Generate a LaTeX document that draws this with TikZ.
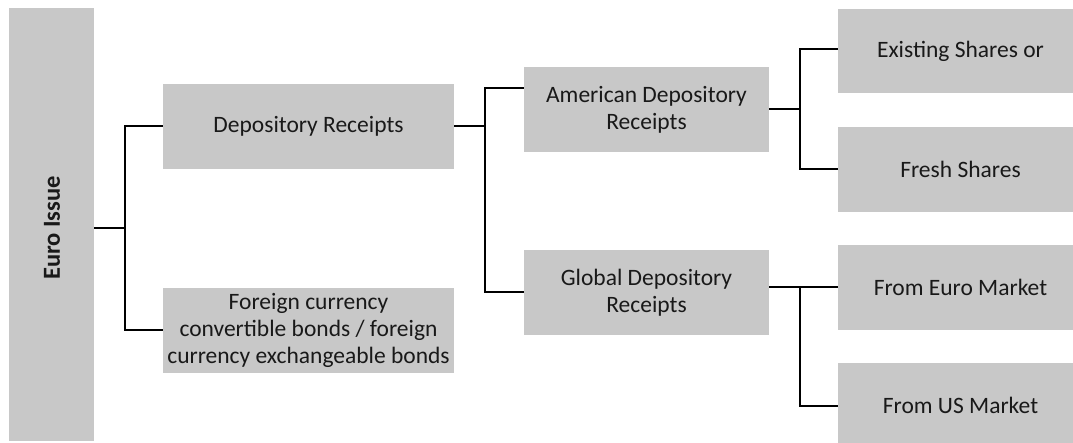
\documentclass[tikz,border=0pt]{standalone}
\usepackage{fontspec}
\setmainfont{Carlito}
\begin{document}
\begin{tikzpicture}[x=1pt,y=-1pt,
  box/.style={rectangle, fill=boxgray, inner sep=0pt, align=center,
    font=\fontsize{23.5}{27}\selectfont, text=black!90},
  conn/.style={draw=black, line width=2pt}]
\definecolor{boxgray}{RGB}{200,200,200}
\useasboundingbox (0,0) rectangle (1073,443);
\clip (0,0) rectangle (1073,443);
\node[box, minimum width=85pt, minimum height=432pt] (euro) at (51.5,224.5) {};
\node[rotate=90, font=\fontsize{24.5}{27}\selectfont\bfseries, text=black!90] (eurotext) at (52,228) {Euro Issue};
\node[box, minimum width=291pt, minimum height=85pt] (dr) at (308.5,126.5) {Depository Receipts};
\node[box, minimum width=291pt, minimum height=85pt] (fc) at (308.5,330.5) {Foreign currency\\convertible bonds / foreign\\currency exchangeable bonds};
\node[box, minimum width=245pt, minimum height=85pt] (adr) at (646.5,109.5) {American Depository\\Receipts};
\node[box, minimum width=245pt, minimum height=85pt] (gdr) at (646.5,292.5) {Global Depository\\Receipts};
\node[box, minimum width=245pt, minimum height=84pt] (es) at (960.5,51) {Existing Shares or};
\node[box, minimum width=245pt, minimum height=85pt] (fs) at (960.5,169.5) {Fresh Shares};
\node[box, minimum width=245pt, minimum height=85pt] (fe) at (960.5,287.5) {From Euro Market};
\node[box, minimum width=245pt, minimum height=85pt] (fu) at (960.5,405.5) {From US Market};
% connectors
\draw[conn] ([yshift=-3.5pt]euro.east) -- ++(31,0) coordinate (j1);
\draw[conn] (dr.west) -| (j1) |- (fc.west);
\draw[conn] (dr.east) -- ++(31,0) coordinate (j2);
\draw[conn] ([yshift=21.5pt]adr.west) -| (j2) |- (gdr.west);
\draw[conn] (adr.east) -- ++(31,0) coordinate (j3);
\draw[conn] ([yshift=2pt]es.west) -| (j3) |- (fs.west);
\draw[conn] (gdr.east |- fe.west) -- (fe.west);
\coordinate (j4) at (j3 |- fe.west);
\draw[conn] (j4) |- (fu.west);
\end{tikzpicture}
\end{document}
